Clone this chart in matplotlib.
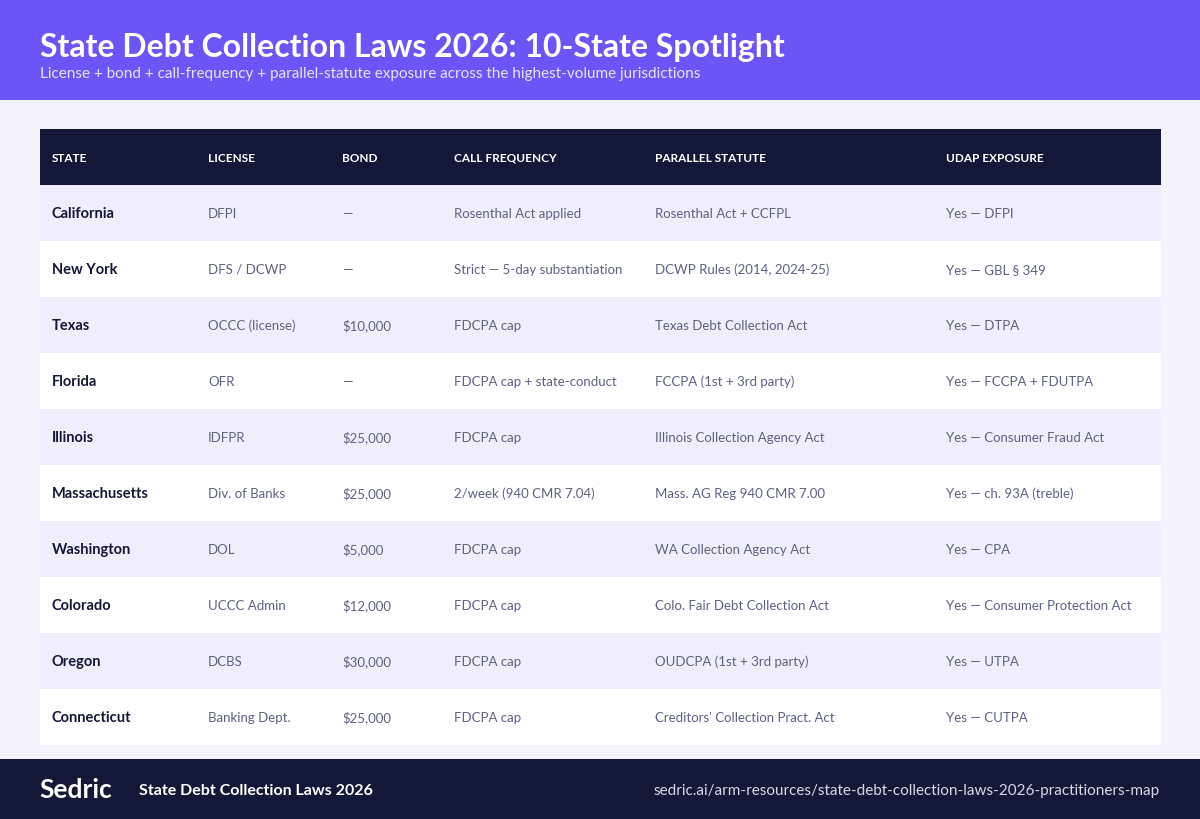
import matplotlib
matplotlib.use("Agg")
import matplotlib.pyplot as plt
from matplotlib.patches import Rectangle

title = "State Debt Collection Laws 2026: 10-State Spotlight"
subtitle = "License + bond + call-frequency + parallel-statute exposure across the highest-volume jurisdictions"
columns = ["STATE", "LICENSE", "BOND", "CALL FREQUENCY", "PARALLEL STATUTE", "UDAP EXPOSURE"]
states = ["California", "New York", "Texas", "Florida", "Illinois", "Massachusetts",
          "Washington", "Colorado", "Oregon", "Connecticut"]
licenses = ["DFPI", "DFS / DCWP", "OCCC (license)", "OFR", "IDFPR", "Div. of Banks",
            "DOL", "UCCC Admin", "DCBS", "Banking Dept."]
bonds = ["—", "—", "$10,000", "—", "$25,000", "$25,000", "$5,000", "$12,000", "$30,000", "$25,000"]
call_freq = ["Rosenthal Act applied", "Strict — 5-day substantiation", "FDCPA cap",
             "FDCPA cap + state-conduct", "FDCPA cap", "2/week (940 CMR 7.04)",
             "FDCPA cap", "FDCPA cap", "FDCPA cap", "FDCPA cap"]
parallel = ["Rosenthal Act + CCFPL", "DCWP Rules (2014, 2024-25)", "Texas Debt Collection Act",
            "FCCPA (1st + 3rd party)", "Illinois Collection Agency Act",
            "Mass. AG Reg 940 CMR 7.00", "WA Collection Agency Act",
            "Colo. Fair Debt Collection Act", "OUDCPA (1st + 3rd party)",
            "Creditors' Collection Pract. Act"]
udap = ["Yes — DFPI", "Yes — GBL § 349", "Yes — DTPA", "Yes — FCCPA + FDUTPA",
        "Yes — Consumer Fraud Act", "Yes — ch. 93A (treble)", "Yes — CPA",
        "Yes — Consumer Protection Act", "Yes — UTPA", "Yes — CUTPA"]
footer_left = "State Debt Collection Laws 2026"
footer_right = "sedric.ai/arm-resources/state-debt-collection-laws-2026-practitioners-map"

plt.rcParams['font.family'] = ['Lato', 'DejaVu Sans']
fig = plt.figure(figsize=(12, 8.2), dpi=100)
fig.patch.set_facecolor("#F4F3FB")
ax = fig.add_axes([0, 0, 1, 1])
ax.set_xlim(0, 1200); ax.set_ylim(820, 0); ax.axis("off")

PURPLE = "#6B55F6"; NAVY = "#141838"
ax.add_patch(Rectangle((0, 0), 1200, 101, color=PURPLE, lw=0))
ax.text(40, 47, title, color="white", fontsize=23, fontweight="bold", va="center")
ax.text(40, 74, subtitle, color="#E6E2FF", fontsize=11, va="center")

colx = [52, 208, 342, 454, 655, 946]
ax.add_patch(Rectangle((40, 130), 1121, 56, color=NAVY, lw=0))
for x, c in zip(colx, columns):
    ax.text(x, 158, c, color="white", fontsize=8.5, fontweight="bold", va="center")

rows = list(zip(states, licenses, bonds, call_freq, parallel, udap))
for i, r in enumerate(rows):
    y0 = 186 + 56 * i
    ax.add_patch(Rectangle((40, y0), 1121, 56, color="#F0EEFC" if i % 2 == 0 else "white", lw=0))
    yc = y0 + 28
    for j, (x, v) in enumerate(zip(colx, r)):
        if j == 0:
            ax.text(x, yc, v, color=NAVY, fontsize=10.5, fontweight="bold", va="center")
        else:
            ax.text(x, yc, v, color="#5E6280", fontsize=9.5, va="center")

ax.add_patch(Rectangle((0, 760), 1200, 60, color=NAVY, lw=0))
ax.text(39, 790, "Sedric", color="white", fontsize=19, fontweight="bold", va="center")
ax.text(139, 791, footer_left, color="white", fontsize=11.5, fontweight="bold", va="center")
ax.text(1160, 791, footer_right, color="#D8D9E6", fontsize=11, va="center", ha="right")

fig.savefig("out.png", dpi=100, facecolor=fig.get_facecolor())
